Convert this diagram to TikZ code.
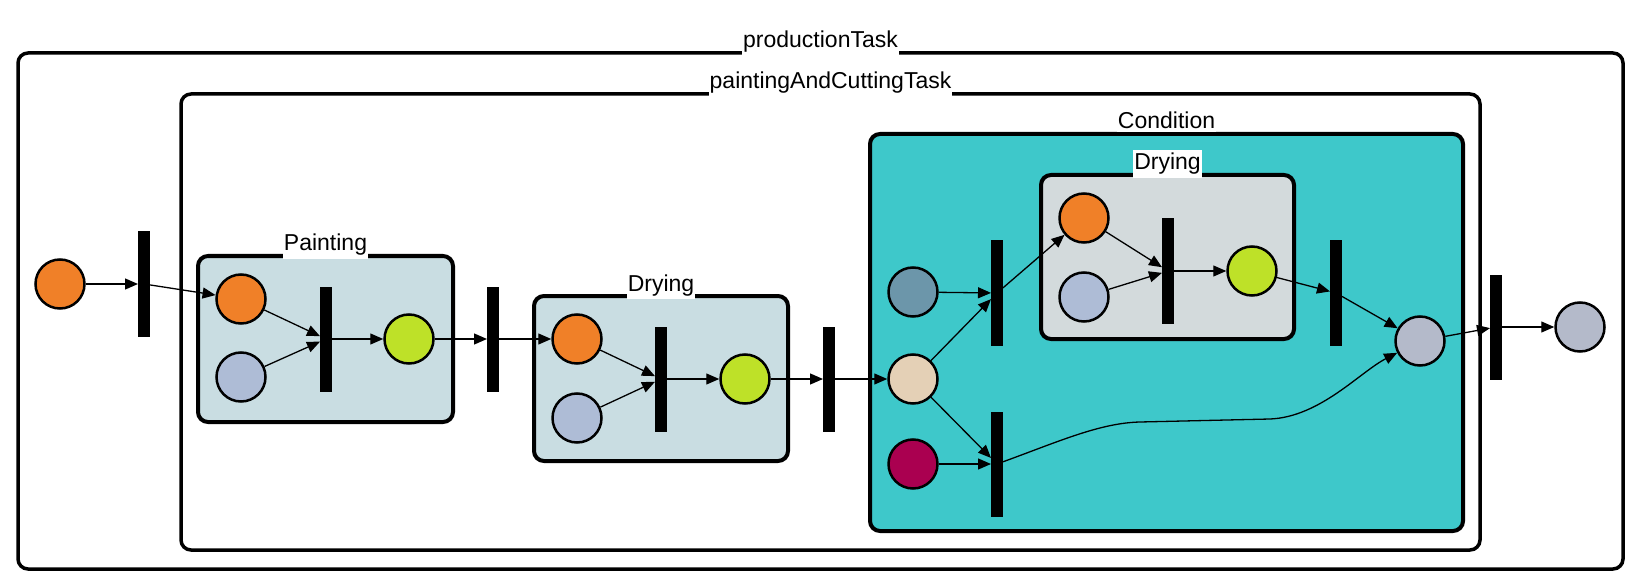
\documentclass[tikz,border=0pt]{standalone}
\usepackage{fontspec}
\setmainfont{Liberation Sans}
\usetikzlibrary{arrows.meta}
\definecolor{corange}{RGB}{240,128,40}
\definecolor{cgreyblue}{RGB}{174,188,214}
\definecolor{cgreen}{RGB}{190,225,40}
\definecolor{csteel}{RGB}{108,150,170}
\definecolor{cbeige}{RGB}{228,208,182}
\definecolor{ccrimson}{RGB}{170,0,80}
\definecolor{cgrey}{RGB}{180,186,202}
\definecolor{csubfill}{RGB}{201,221,226}
\definecolor{cinnerfill}{RGB}{211,218,220}
\definecolor{cteal}{RGB}{62,200,202}
\begin{document}
\begin{tikzpicture}[x=1pt,y=-1pt,
  place/.style={circle,draw=black,line width=2.5pt,minimum size=49pt,inner sep=0pt},
  trans/.style={rectangle,fill=black,minimum width=12pt,minimum height=105pt,inner sep=0pt,outer sep=0pt},
  arc/.style={line width=1.3pt,-{Triangle[length=13pt,width=11pt]}},
  netbox/.style={draw=black,line width=4pt,rounded corners=10pt},
  netlabel/.style={fill=white,anchor=base,inner xsep=1pt,inner ysep=3pt,font=\fontsize{23}{27}\selectfont}]
\useasboundingbox (0,0) rectangle (1652,588);
\fill[white] (0,0) rectangle (1652,588);
% boxes
\draw[netbox,line width=3.5pt] (18,53) rectangle (1623,569);
\draw[netbox,line width=3.5pt] (181,94) rectangle (1480,550);
\draw[netbox,fill=csubfill] (198,256) rectangle (453,422);
\draw[netbox,fill=csubfill] (534,296) rectangle (788,461);
\draw[netbox,fill=cteal] (870,134) rectangle (1463,531);
\draw[netbox,fill=cinnerfill] (1041,175) rectangle (1294,339);
% labels
\node[netlabel] (lprod) at (820.5,48) {productionTask};
\node[netlabel] (lpact) at (830.5,89) {paintingAndCuttingTask};
\node[netlabel] (lpaint) at (325.5,251) {Painting};
\node[netlabel] (ldry1) at (661,291) {Drying};
\node[netlabel] (lcond) at (1166.5,129) {Condition};
\node[netlabel] (ldry2) at (1167.5,170) {Drying};
% places and transitions
\node[place,fill=corange] (o1) at (60,284) {};
\node[trans] (t1) at (144,284) {};
\node[place,fill=corange] (po) at (241,299) {};
\node[place,fill=cgreyblue] (pg) at (241,377) {};
\node[trans] (pt) at (326,339) {};
\node[place,fill=cgreen] (pgr) at (409,339) {};
\node[trans] (t2) at (493,339) {};
\node[place,fill=corange] (do) at (577,339) {};
\node[place,fill=cgreyblue] (dg) at (577,418) {};
\node[trans] (dt) at (661,379) {};
\node[place,fill=cgreen] (dgr) at (745,379) {};
\node[trans] (t3) at (829,379) {};
\node[place,fill=csteel] (cs) at (913,292) {};
\node[place,fill=cbeige] (cb) at (913,379) {};
\node[place,fill=ccrimson] (cc) at (913,464) {};
\node[trans] (ta) at (997,293) {};
\node[trans] (tb) at (997,464) {};
\node[place,fill=corange] (io) at (1084,218) {};
\node[place,fill=cgreyblue] (ig) at (1084,297) {};
\node[trans] (it) at (1168,271) {};
\node[place,fill=cgreen] (igr) at (1252,271) {};
\node[trans] (tc) at (1336,293) {};
\node[place,fill=cgrey] (ge) at (1420,341) {};
\node[trans] (td) at (1496,327) {};
\node[place,fill=cgrey] (gf) at (1580,327) {};
\coordinate (k1) at (1140,422);
\coordinate (k2) at (1270,419);
% arcs
\draw[arc] (o1) -- (t1);
\draw[arc] (t1) -- (po);
\draw[arc] (po) -- (pt);
\draw[arc] (pg) -- (pt);
\draw[arc] (pt) -- (pgr);
\draw[arc] (pgr) -- (t2);
\draw[arc] (t2) -- (do);
\draw[arc] (do) -- (dt);
\draw[arc] (dg) -- (dt);
\draw[arc] (dt) -- (dgr);
\draw[arc] (dgr) -- (t3);
\draw[arc] (t3) -- (cb);
\draw[arc] (cs) -- (ta);
\draw[arc] (cb) -- (ta);
\draw[arc] (cb) -- (tb);
\draw[arc] (cc) -- (tb);
\draw[arc] (ta) -- (io);
\draw[arc] (io) -- (it);
\draw[arc] (ig) -- (it);
\draw[arc] (it) -- (igr);
\draw[arc] (igr) -- (tc);
\draw[arc] (tc) -- (ge);
\draw[arc] (tb) .. controls (1060,441) and (1100,423) .. (k1) -- (k2) .. controls (1320,417) and (1360,372) .. (ge);
\draw[arc] (ge) -- (td);
\draw[arc] (td) -- (gf);
\end{tikzpicture}
\end{document}
